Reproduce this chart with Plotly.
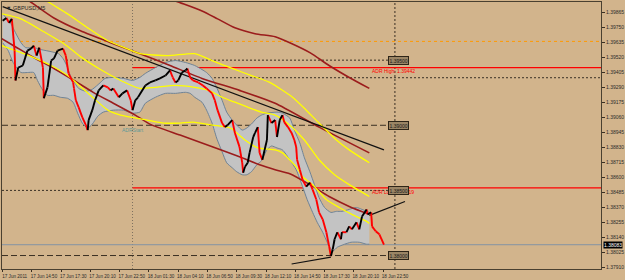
import plotly.graph_objects as go

BG = "#D2B48C"
DARK = "#3a3024"

# ---- axis labels ----
time_labels = ["17 Jun 2011", "17 Jun 14:50", "17 Jun 17:30", "17 Jun 20:10", "17 Jun 22:50",
               "18 Jun 01:30", "18 Jun 04:10", "18 Jun 06:50", "18 Jun 09:30", "18 Jun 12:10",
               "18 Jun 14:50", "18 Jun 17:30", "18 Jun 20:10", "18 Jun 22:50"]
label_bars = [0, 32, 64, 96, 128, 160, 192, 224, 256, 288, 320, 352, 384, 416]
price_ticks = [1.39865, 1.39750, 1.39635, 1.39520, 1.39405, 1.39290, 1.39175, 1.39060, 1.38945,
               1.38830, 1.38715, 1.38600, 1.38485, 1.38370, 1.38255, 1.38140, 1.38025, 1.37910]

# ---- price path (M5 bar index, price) ----
path_bar = [0, 4, 7, 10, 13, 14, 17, 22, 27, 31, 34, 37, 40, 44, 45, 49, 53, 56, 60, 66, 69, 72, 77, 78,
            80, 83, 87, 91, 93, 94, 98, 101, 105, 110, 115, 118, 121, 127, 131, 136, 140, 142, 145, 148,
            156, 161, 167, 172, 178, 183, 186, 189, 192, 196, 200, 202, 205, 208, 214, 219, 223, 229,
            232, 235, 240, 243, 246, 251, 254, 259, 262, 263, 265, 268, 270, 274, 276, 279, 281, 284,
            289, 290, 294, 298, 300, 303, 306, 308, 312, 316, 319, 321, 322, 325, 328, 332, 336, 339,
            343, 346, 350, 354, 357, 359, 361, 363, 366, 370, 371, 376, 379, 382, 387, 390, 393, 398,
            399, 403, 404, 408, 412, 417]
path_price = [1.39802, 1.39824, 1.39786, 1.39817, 1.39573, 1.39344, 1.39443, 1.39459, 1.39573, 1.39588,
              1.39611, 1.39535, 1.39596, 1.39443, 1.39207, 1.39291, 1.39497, 1.39512, 1.39573, 1.39588,
              1.39535, 1.39398, 1.39329, 1.39283, 1.39192, 1.39139, 1.39062, 1.39001, 1.38963, 1.39040,
              1.39116, 1.39192, 1.39268, 1.39306, 1.39291, 1.39268, 1.39283, 1.39215, 1.39245, 1.39268,
              1.39192, 1.39116, 1.39192, 1.39215, 1.39306, 1.39329, 1.39344, 1.39360, 1.39382, 1.39421,
              1.39367, 1.39329, 1.39344, 1.39405, 1.39421, 1.39436, 1.39367, 1.39344, 1.39329, 1.39306,
              1.39283, 1.39245, 1.39192, 1.39116, 1.39017, 1.38986, 1.39001, 1.39040, 1.38941, 1.38834,
              1.38712, 1.38636, 1.38681, 1.38712, 1.38788, 1.38910, 1.38941, 1.38986, 1.38788, 1.38735,
              1.38887, 1.39078, 1.39017, 1.39040, 1.38910, 1.39040, 1.39078, 1.39024, 1.38986, 1.38941,
              1.38887, 1.38834, 1.38735, 1.38659, 1.38582, 1.38529, 1.38560, 1.38506, 1.38430, 1.38331,
              1.38278, 1.38179, 1.38072, 1.37996, 1.38049, 1.38125, 1.38179, 1.38125, 1.38179, 1.38179,
              1.38224, 1.38201, 1.38255, 1.38201, 1.38300, 1.38354, 1.38316, 1.38331, 1.38224, 1.38186,
              1.38163, 1.38083]

# ---- gray channel ----
band_up_bar = [0, 9, 14, 20, 25, 34, 42, 53, 61, 66, 70, 74, 79, 83, 91, 98, 107, 112, 121, 132, 142,
               150, 156, 167, 178, 189, 200, 210, 218, 223, 229, 234, 240, 245, 251, 256, 262, 267, 272,
               278, 283, 289, 300, 306, 314, 319, 325, 330, 336, 341, 346, 352, 359, 365, 371, 379, 387,
               393, 401]
band_up = [1.39855, 1.39779, 1.39710, 1.39634, 1.39596, 1.39596, 1.39581, 1.39565, 1.39550, 1.39512,
           1.39459, 1.39382, 1.39322, 1.39283, 1.39261, 1.39276, 1.39329, 1.39360, 1.39367, 1.39360,
           1.39344, 1.39367, 1.39398, 1.39443, 1.39482, 1.39497, 1.39482, 1.39459, 1.39428, 1.39405,
           1.39360, 1.39291, 1.39192, 1.39101, 1.39040, 1.39001, 1.38963, 1.38979, 1.39009, 1.39055,
           1.39078, 1.39093, 1.39101, 1.39093, 1.39055, 1.38963, 1.38864, 1.38750, 1.38643, 1.38544,
           1.38445, 1.38369, 1.38331, 1.38339, 1.38339, 1.38354, 1.38369, 1.38354, 1.38331]
band_lo_bar = [0, 6, 12, 20, 27, 34, 38, 44, 49, 56, 63, 71, 77, 82, 87, 93, 98, 104, 110, 121, 132,
               142, 150, 156, 167, 178, 189, 200, 205, 210, 218, 223, 229, 234, 240, 245, 251, 256, 262,
               267, 272, 278, 283, 289, 294, 300, 306, 314, 321, 328, 333, 339, 344, 350, 355, 361, 366,
               374, 381, 390, 398, 401]
band_lo = [1.39634, 1.39573, 1.39474, 1.39405, 1.39405, 1.39405, 1.39344, 1.39268, 1.39230, 1.39230,
           1.39215, 1.39207, 1.39177, 1.39093, 1.39017, 1.38979, 1.39009, 1.39070, 1.39101, 1.39116,
           1.39116, 1.39093, 1.39101, 1.39169, 1.39215, 1.39245, 1.39245, 1.39253, 1.39245, 1.39215,
           1.39177, 1.39116, 1.39017, 1.38902, 1.38796, 1.38712, 1.38674, 1.38643, 1.38620, 1.38620,
           1.38643, 1.38697, 1.38727, 1.38811, 1.38841, 1.38826, 1.38811, 1.38735, 1.38659, 1.38529,
           1.38430, 1.38331, 1.38255, 1.38179, 1.38102, 1.38034, 1.38064, 1.38087, 1.38102, 1.38102,
           1.38087, 1.38087]

# ---- yellow envelope lines ----
y1_bar = [36, 50, 71, 93, 115, 136, 150, 181, 210, 229, 251, 272, 292, 317, 332, 346, 365, 379, 401]
y1 = [1.40015, 1.39946, 1.39855, 1.39748, 1.39649, 1.39588, 1.39550, 1.39535, 1.39550, 1.39497,
      1.39436, 1.39382, 1.39329, 1.39215, 1.39116, 1.39017, 1.38887, 1.38811, 1.38712]
y2_bar = [-1, 20, 45, 67, 85, 107, 129, 150, 167, 189, 210, 225, 240, 254, 268, 283, 298, 314, 330,
          346, 363, 379, 401]
y2 = [1.39855, 1.39817, 1.39718, 1.39626, 1.39527, 1.39428, 1.39344, 1.39283, 1.39291, 1.39306,
      1.39291, 1.39268, 1.39215, 1.39177, 1.39139, 1.39101, 1.39078, 1.39001, 1.38887, 1.38735,
      1.38620, 1.38544, 1.38453]
y3_bar = [-1, 20, 34, 53, 71, 96, 115, 129, 158, 176, 194, 208, 230, 249, 265, 279, 298, 306, 321,
          328, 339, 354, 368, 382, 398, 401]
y3 = [1.39611, 1.39558, 1.39520, 1.39459, 1.39382, 1.39230, 1.39116, 1.39078, 1.39040, 1.39017,
      1.39017, 1.39024, 1.39001, 1.38979, 1.38887, 1.38826, 1.38811, 1.38788, 1.38681, 1.38605,
      1.38544, 1.38430, 1.38369, 1.38316, 1.38262, 1.38247]

# ---- dark red moving averages ----
m1_bar = [161, 189, 218, 235, 254, 276, 298, 314, 336, 357, 379, 401]
m1 = [1.40030, 1.39954, 1.39878, 1.39817, 1.39748, 1.39703, 1.39680, 1.39634, 1.39558, 1.39459,
      1.39367, 1.39283]
m2_bar = [14, 29, 56, 85, 118, 150, 183, 218, 259, 298, 346, 401]
m2 = [1.40015, 1.39954, 1.39824, 1.39725, 1.39634, 1.39550, 1.39459, 1.39360, 1.39268, 1.39169,
      1.38986, 1.38788]
m3_bar = [-1, 12, 34, 56, 78, 99, 121, 145, 161, 194, 230, 259, 281, 298, 314, 336, 357, 379, 401]
m3 = [1.39664, 1.39611, 1.39520, 1.39436, 1.39344, 1.39253, 1.39169, 1.39078, 1.39009, 1.38925,
      1.38834, 1.38758, 1.38697, 1.38659, 1.38628, 1.38544, 1.38453, 1.38377, 1.38316]

# ---- trend lines ----
trend_main_bar, trend_main = [0, 417], [1.39911, 1.38811]
trend_low_bar, trend_low = [316, 359], [1.37935, 1.37988]
trend_right_bar, trend_right = [401, 440], [1.38308, 1.38415]

# ---- levels ----
round_levels = [1.39500, 1.39000, 1.38500, 1.38000]
round_dash = ["2px,2px", "6px,3px", "2px,2px", "6px,3px"]
orange_level = 1.39644
dotted_level = 1.39365
adr_high = 1.39442
adr_low = 1.38519
adr_start_bar = 142
separator_bar = 429
current_price = path_price[-1]

X_MIN, X_MAX = -0.76, 654.4
Y_MIN, Y_MAX = 1.378966, 1.399464
BOX_X = 432.4

fig = go.Figure()

# channel fill
fig.add_trace(go.Scatter(x=band_up_bar + band_lo_bar[::-1], y=band_up + band_lo[::-1],
                         fill="toself", fillcolor="#c3c3c3", line=dict(width=0),
                         mode="lines", hoverinfo="skip"))
for bx, by in [(band_up_bar, band_up), (band_lo_bar, band_lo)]:
    fig.add_trace(go.Scatter(x=bx, y=by, mode="lines",
                             line=dict(color="#6f8396", width=1, shape="spline", smoothing=0.6)))

for bx, by in [(m1_bar, m1), (m2_bar, m2), (m3_bar, m3)]:
    fig.add_trace(go.Scatter(x=bx, y=by, mode="lines",
                             line=dict(color="#9b1c1c", width=1.6, shape="spline", smoothing=0.6)))
for bx, by in [(y1_bar, y1), (y2_bar, y2), (y3_bar, y3)]:
    fig.add_trace(go.Scatter(x=bx, y=by, mode="lines",
                             line=dict(color="#ffff00", width=1.3, shape="spline", smoothing=0.6)))

for bx, by in [(trend_main_bar, trend_main), (trend_low_bar, trend_low),
               (trend_right_bar, trend_right)]:
    fig.add_trace(go.Scatter(x=bx, y=by, mode="lines", line=dict(color="#111111", width=1.2)))

# price path: rising legs black, falling legs red
up_x, up_y, dn_x, dn_y = [], [], [], []
pts = list(zip(path_bar, path_price))
for (xa, ya), (xb, yb) in zip(pts[:-1], pts[1:]):
    if yb > ya:
        up_x += [xa, xb, None]
        up_y += [ya, yb, None]
    else:
        dn_x += [xa, xb, None]
        dn_y += [ya, yb, None]
fig.add_trace(go.Scatter(x=dn_x, y=dn_y, mode="lines", line=dict(color="#ff0000", width=1.9)))
fig.add_trace(go.Scatter(x=up_x, y=up_y, mode="lines", line=dict(color="#000000", width=1.9)))

shapes = []
def hline(y, x0, x1, color, dash, width=1, layer="below"):
    shapes.append(dict(type="line", xref="x", yref="y", x0=x0, x1=x1, y0=y, y1=y, layer=layer,
                       line=dict(color=color, width=width, dash=dash)))

hline(orange_level, X_MIN, X_MAX, "#ff9900", "3px,3px")
hline(dotted_level, X_MIN, X_MAX, DARK, "2px,2px")
for lv, ds in zip(round_levels, round_dash):
    hline(lv, X_MIN, BOX_X - 11, DARK, ds)
hline(adr_high, adr_start_bar, X_MAX, "#ff0000", "solid", 1.3)
hline(adr_low, adr_start_bar, X_MAX, "#ff0000", "solid", 1.3)
hline(current_price, X_MIN, X_MAX, "#8393a3", "solid", 1)
shapes.append(dict(type="line", xref="x", yref="paper", x0=adr_start_bar, x1=adr_start_bar, y0=0, y1=1,
                   layer="below", line=dict(color="#7d7060", width=1, dash="1px,2px")))
shapes.append(dict(type="line", xref="x", yref="paper", x0=separator_bar, x1=separator_bar, y0=0, y1=1,
                   layer="below", line=dict(color=DARK, width=1, dash="2px,2px")))

ann = []
ann.append(dict(x=0.004, y=0.997, xref="paper", yref="paper", xanchor="left", yanchor="top",
                text="▼ GBPUSD,M5", showarrow=False, font=dict(size=5.5, color="#2a2a2a")))
ann.append(dict(x=adr_start_bar, y=1.38963, xref="x", yref="y", text="ADRStart", showarrow=False,
                font=dict(size=5, color="#5f9a9a")))
ann.append(dict(x=427, y=1.39417, xref="x", yref="y", text="ADR High: %.5f" % adr_high,
                showarrow=False, font=dict(size=5, color="#ff0000")))
ann.append(dict(x=427, y=1.38491, xref="x", yref="y", text="ADR Low: %.5f" % adr_low,
                showarrow=False, font=dict(size=5, color="#ff0000")))
for lv in round_levels:
    ann.append(dict(x=BOX_X, y=lv, xref="x", yref="y", text="%.5f" % lv, showarrow=False,
                    bgcolor="#9b8565", bordercolor="#2e2518", borderwidth=1, borderpad=0.5,
                    font=dict(size=5, color="#1a1a1a")))
ann.append(dict(x=1.0, y=current_price, xref="paper", yref="y", xanchor="left", xshift=2,
                text="%.5f" % current_price, showarrow=False, bgcolor="#000000", borderpad=0,
                font=dict(size=5, color="#ffffff")))

fig.update_layout(
    width=625, height=280,
    margin=dict(l=1, r=22, t=1, b=10),
    paper_bgcolor=BG, plot_bgcolor=BG,
    showlegend=False,
    font=dict(family="Liberation Sans", size=5, color="#2b2b2b"),
    shapes=shapes, annotations=ann,
    xaxis=dict(range=[X_MIN, X_MAX], tickvals=label_bars, ticktext=time_labels,
               ticks="outside", ticklen=2, tickcolor=DARK, showgrid=False, zeroline=False,
               showline=True, linecolor="#4a4030", linewidth=1, mirror=True,
               tickfont=dict(size=4.6, color="#2b2b2b"), ticklabelshift=12, ticklabelstandoff=0),
    yaxis=dict(range=[Y_MIN, Y_MAX], side="right", tickvals=price_ticks,
               ticktext=["%.5f" % v for v in price_ticks],
               ticks="outside", ticklen=3, tickcolor=DARK, showgrid=False, zeroline=False,
               showline=True, linecolor="#4a4030", linewidth=1, mirror=True,
               tickfont=dict(size=5, color="#2b2b2b")),
)

fig.write_html("out.html")
